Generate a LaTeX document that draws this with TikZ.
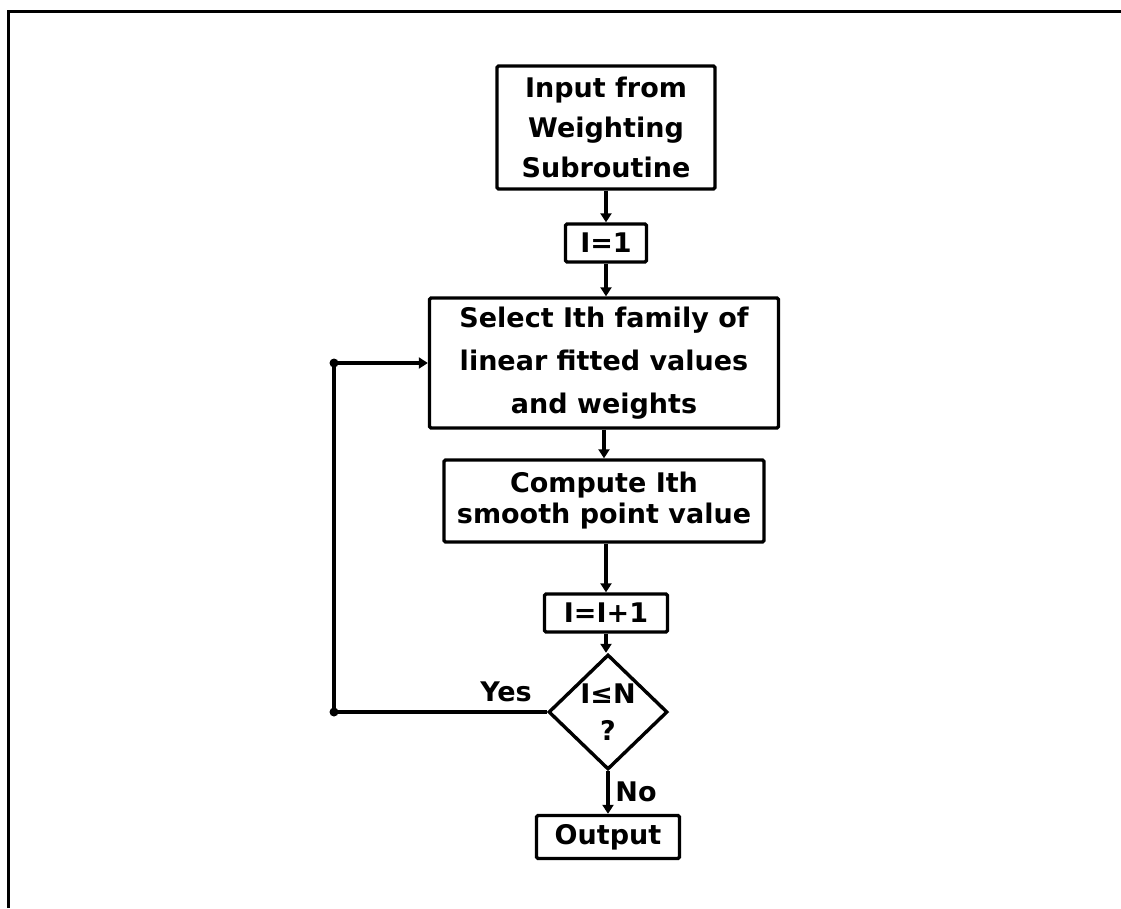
\documentclass[tikz,border=0pt]{standalone}
\usepackage{fontspec}
\setmainfont{DejaVu Sans}
\usetikzlibrary{shapes.geometric,arrows.meta}
\begin{document}
\begin{tikzpicture}[x=1pt,y=-1pt,
  every node/.style={font=\bfseries\fontsize{27}{40}\selectfont},
  procbox/.style={draw,line width=3.4pt,rounded corners=1.5pt,align=center,inner sep=0pt},
  decbox/.style={draw,diamond,line width=3.4pt,align=center,inner sep=0pt},
  conn/.style={line width=3.2pt},
  arr/.style={conn,-{Triangle[width=11pt,length=9pt]}},
  dot/.style={circle,fill,inner sep=0pt,minimum size=9pt}]
\useasboundingbox (0,0) rectangle (1121,908);
% page frame
\draw[line width=3pt] (8,908) -- (8,11) -- (1121,11);
% nodes
\node[procbox,minimum width=218pt,minimum height=123pt] (input) at (606,127.5)
  {Input from\\Weighting\\Subroutine};
\node[procbox,minimum width=81pt,minimum height=38pt] (ione) at (606,243) {I=1};
\node[procbox,minimum width=349pt,minimum height=130pt,
  font=\bfseries\fontsize{27}{43}\selectfont] (select) at (604,363)
  {Select Ith family of\\linear fitted values\\and weights};
\node[procbox,minimum width=320pt,minimum height=82pt,
  font=\bfseries\fontsize{27}{31}\selectfont] (compute) at (604,501)
  {Compute Ith\\smooth point value};
\node[procbox,minimum width=123pt,minimum height=38pt] (incr) at (606,613) {I=I+1};
\node[decbox,minimum width=119pt,minimum height=115pt,
  font=\bfseries\fontsize{27}{37}\selectfont] (test) at (608,712) {I≤N\\?};
\node[procbox,minimum width=143pt,minimum height=43pt] (output) at (608,837) {Output};
\node (yes) at (506,692) {Yes};
\node (no) at (636,792) {No};
\coordinate (lc) at (334,712);
% connectors
\draw[arr] (input.south) -- (ione.north);
\draw[arr] (ione.south) -- (select.north -| ione.south);
\draw[arr] (select.south -| compute.south) -- (compute.north);
\draw[arr] (compute.south -| incr.south) -- (incr.north);
\draw[arr] (incr.south) -- (incr.south |- test.north);
\draw[arr] (test.south) -- (output.north);
\draw[arr] (test.west) -- (lc) |- (select.west);
\node[dot] (d1) at (lc) {};
\node[dot] (d2) at (lc |- select.west) {};
\end{tikzpicture}
\end{document}
